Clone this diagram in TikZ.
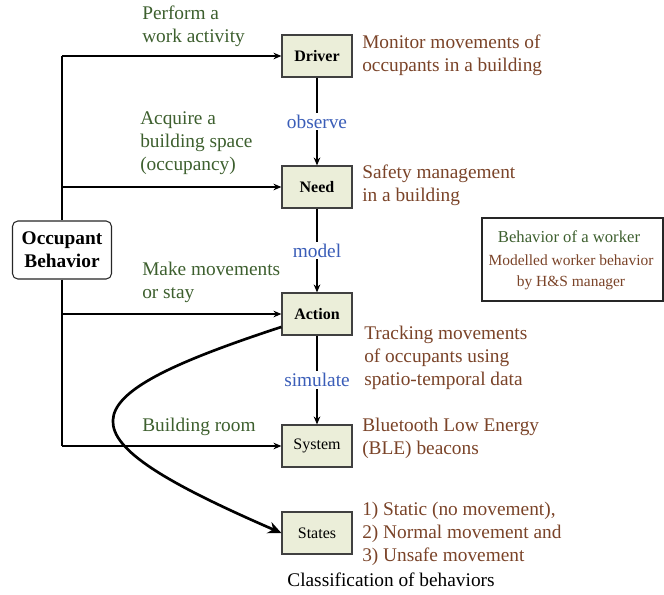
\documentclass[tikz,border=0pt]{standalone}
\usepackage{fontspec}
\setmainfont{Liberation Serif}
\usetikzlibrary{arrows.meta}
\definecolor{boxfill}{HTML}{EBEED9}
\definecolor{actgreen}{HTML}{3D5F2E}
\definecolor{notebrown}{HTML}{7A4328}
\definecolor{verbblue}{HTML}{3A5DB8}
\begin{document}
\begin{tikzpicture}[x=0.75pt,y=-0.75pt,
    stage/.style={draw=black!75,fill=boxfill,line width=0.9pt,minimum width=52.5pt,minimum height=31.5pt,inner sep=0pt,font=\fontsize{12}{14}\selectfont},
    actlbl/.style={anchor=west,inner sep=0pt,align=left,text=actgreen,font=\fontsize{14.5}{17.25}\selectfont},
    notelbl/.style={anchor=west,inner sep=0pt,align=left,text=notebrown,font=\fontsize{14.5}{17.25}\selectfont},
    verblbl/.style={fill=white,inner sep=1.5pt,text=verbblue,font=\fontsize{14.5}{16}\selectfont},
    arr/.style={-{Stealth[length=6pt,width=5pt]},line width=0.8pt},
    trunk/.style={line width=0.8pt}]
    \useasboundingbox (0,0) rectangle (664,594);
    % stages of the model
    \node[stage] (drv) at (317,56) {\textbf{Driver}};
    \node[stage] (ned) at (317,187) {\textbf{Need}};
    \node[stage] (act) at (317,314) {\textbf{Action}};
    \node[stage] (sys) at (317,446) {System};
    \node[stage] (sts) at (317,533) {States};
    \draw[arr] (drv) -- node[verblbl] {observe} (ned);
    \draw[arr] (ned) -- node[verblbl] {model} (act);
    \draw[arr] (act) -- node[verblbl] {simulate} (sys);
    % occupant behavior and its branches
    \node[draw=black!85,fill=white,line width=0.8pt,rounded corners=4pt,minimum width=74.25pt,minimum height=43.5pt,align=center,inner sep=0pt,font=\bfseries\fontsize{14.5}{17.25}\selectfont] (ob) at (62,250) {Occupant\\Behavior};
    \coordinate (t1) at (62,56);
    \coordinate (t2) at (62,187);
    \coordinate (t3) at (62,314);
    \coordinate (t4) at (62,446);
    \draw[trunk] (t1) -- (ob.north);
    \draw[trunk] (ob.south) -- (t4);
    \draw[arr] (t1) -- (drv);
    \draw[arr] (t2) -- (ned);
    \draw[arr] (t3) -- (act);
    \draw[arr] (t4) -- (sys);
    \draw[-{Stealth[length=10pt,width=9pt]},line width=2pt] (act.200) .. controls (58,400) and (58,436) .. (sts.west);
    \node[actlbl] (pa) at (142,26) {Perform a\\work activity};
    \node[actlbl] (ab) at (140,143) {Acquire a\\building space\\(occupancy)};
    \node[actlbl] (mm) at (142,282.5) {Make movements\\or stay};
    \node[actlbl] (br) at (142,427) {Building room};
    % notes
    \node[notelbl] (mon) at (362,55) {Monitor movements of\\occupants in a building};
    \node[notelbl] (saf) at (362,185) {Safety management\\in a building};
    \node[notelbl] (trk) at (364,358) {Tracking movements\\of occupants using\\spatio-temporal data};
    \node[notelbl] (ble) at (362,438.5) {Bluetooth Low Energy\\(BLE) beacons};
    \node[notelbl] (cls) at (362,533.5) {1) Static (no movement),\\2) Normal movement and\\3) Unsafe movement};
    \node[inner sep=0pt,font=\fontsize{14.5}{17}\selectfont] (cap) at (391,580) {Classification of behaviors};
    % legend
    \node[draw=black!85,line width=0.8pt,minimum width=135.75pt,minimum height=62.25pt,inner sep=0pt] (lgd) at (572.5,259.5) {};
    \node[inner sep=0pt,text=actgreen,font=\fontsize{12.5}{15}\selectfont] (lg1) at (569,237) {Behavior of a worker};
    \node[inner sep=0pt,align=center,text=notebrown,font=\fontsize{11.6}{15.75}\selectfont] (lg2) at (571,272.5) {Modelled worker behavior\\by H\&S manager};
\end{tikzpicture}
\end{document}
